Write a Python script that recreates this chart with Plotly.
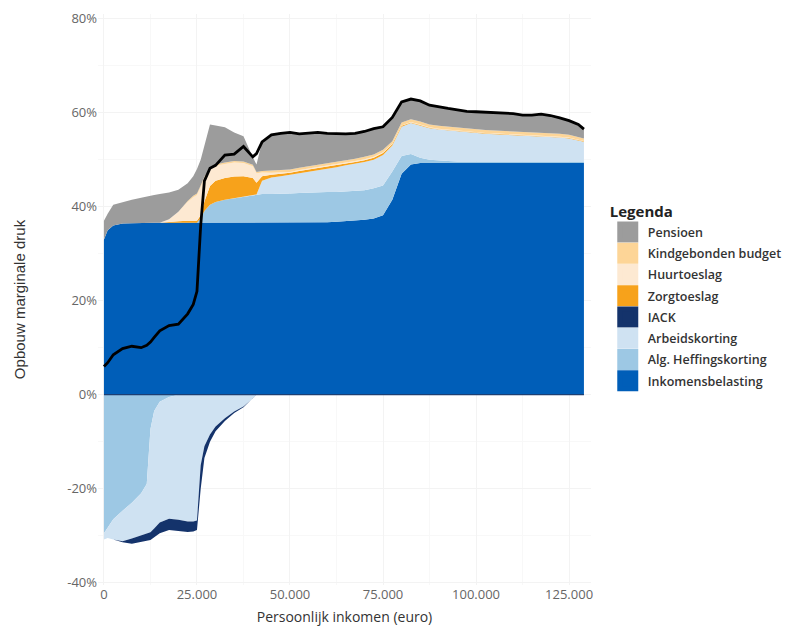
import plotly.graph_objects as go

# Income (euro)
inkomen = [0, 1000, 2500, 5000, 7500, 10000, 11500, 12500, 13500, 15000, 17500, 20000,
           22500, 24000, 25000, 26000, 27000, 28500, 30000, 32500, 35000, 37500, 40000,
           41000, 42500, 45000, 47500, 50000, 52500, 55000, 57500, 60000, 62500, 65000,
           67500, 70000, 72500, 75000, 77500, 80000, 82500, 85000, 87500, 90000, 92500,
           95000, 97500, 100000, 102500, 105000, 107500, 110000, 112500, 115000, 117500,
           120000, 122500, 125000, 127500, 129000]

# Positive contributions (%)
inkomensbelasting = [33.0, 35.0, 36.0, 36.4, 36.5, 36.6, 36.6, 36.6, 36.6, 36.6, 36.6, 36.6,
                     36.6, 36.6, 36.6, 36.6, 36.6, 36.6, 36.6, 36.6, 36.6, 36.6, 36.6,
                     36.6, 36.6, 36.6, 36.6, 36.6, 36.6, 36.6, 36.6, 36.7, 36.8, 36.9,
                     37.0, 37.2, 37.5, 38.2, 41.5, 47.0, 49.0, 49.3, 49.3, 49.3, 49.3,
                     49.3, 49.3, 49.3, 49.3, 49.3, 49.3, 49.3, 49.3, 49.3, 49.3,
                     49.3, 49.3, 49.3, 49.3, 49.3]
heffingskorting_pos = [0, 0, 0, 0, 0, 0, 0, 0, 0, 0, 0, 0,
                       0, 0, 0, 1.0, 2.5, 3.8, 4.4, 4.9, 5.2, 5.5, 5.9,
                       6.0, 6.1, 6.1, 6.1, 6.2, 6.3, 6.4, 6.4, 6.4, 6.3, 6.3,
                       6.3, 6.3, 6.4, 6.3, 6.0, 3.8, 2.2, 1.1, 0.7, 0.5, 0.4,
                       0.3, 0.3, 0.3, 0.3, 0.3, 0.3, 0.3, 0.3, 0.3, 0.3,
                       0.3, 0.3, 0.3, 0.3, 0.3]
arbeidskorting_pos = [0, 0, 0, 0, 0, 0, 0, 0, 0, 0, 0, 0,
                      0, 0, 0, 0, 0, 0, 0, 0, 0, 0, 0,
                      0, 2.8, 3.5, 3.8, 4.0, 4.3, 4.5, 4.8, 5.0, 5.3, 5.6,
                      5.8, 6.0, 6.1, 6.5, 5.5, 6.2, 6.6, 6.9, 6.7, 6.6, 6.5,
                      6.4, 6.2, 6.0, 5.9, 5.8, 5.7, 5.6, 5.5, 5.4, 5.4,
                      5.3, 5.1, 4.9, 4.5, 4.2]
zorgtoeslag = [0, 0, 0, 0, 0, 0, 0, 0, 0, 0, 0.2, 0.3,
               0.4, 0.4, 0.4, 0.6, 2.0, 4.0, 4.5, 4.6, 4.6, 4.4, 3.6,
               2.5, 1.0, 0.6, 0.5, 0.4, 0.4, 0.4, 0.4, 0.4, 0.4, 0.4,
               0.4, 0.4, 0.4, 0.4, 0.3, 0.2, 0.1, 0.1, 0.1, 0.1, 0.1,
               0.1, 0.1, 0.1, 0.1, 0.1, 0.1, 0.1, 0.1, 0.1, 0.1,
               0.1, 0.1, 0.1, 0.1, 0.1]
huurtoeslag = [0, 0, 0, 0, 0, 0, 0, 0, 0, 0, 0.5, 2.0,
               4.0, 5.0, 5.5, 6.0, 5.0, 3.5, 3.2, 3.0, 3.0, 2.8, 2.5,
               2.0, 0.8, 0.4, 0.3, 0.2, 0.2, 0.2, 0.2, 0.2, 0.2, 0.2,
               0.2, 0.2, 0.2, 0.2, 0.1, 0.1, 0.1, 0.1, 0.1, 0.1, 0.1,
               0.1, 0.1, 0.1, 0.1, 0.1, 0.1, 0.1, 0.1, 0.1, 0.1,
               0.1, 0.1, 0.1, 0.1, 0.1]
kindgebonden = [0, 0, 0, 0, 0, 0, 0, 0, 0, 0, 0, 0,
                0.2, 0.3, 0.3, 0.3, 0.3, 0.3, 0.3, 0.3, 0.3, 0.3, 0.3,
                0.3, 0.3, 0.5, 0.5, 0.5, 0.5, 0.5, 0.5, 0.5, 0.5, 0.5,
                0.5, 0.5, 0.5, 0.5, 0.5, 0.6, 0.6, 0.6, 0.6, 0.6, 0.6,
                0.6, 0.6, 0.6, 0.6, 0.6, 0.6, 0.6, 0.6, 0.6, 0.6,
                0.6, 0.6, 0.6, 0.6, 0.5]
pensioen = [4.0, 3.5, 4.4, 4.6, 5.0, 5.3, 5.6, 5.8, 5.9, 6.1, 5.7, 4.7,
            3.8, 4.2, 5.2, 5.5, 6.6, 9.3, 8.3, 7.5, 6.1, 5.4, 1.6,
            1.6, 6.2, 7.6, 7.8, 7.9, 7.2, 7.0, 6.9, 6.4, 6.0, 5.6,
            5.4, 5.4, 5.5, 4.9, 5.1, 4.4, 4.3, 4.4, 4.1, 4.0, 3.9,
            3.8, 3.7, 3.8, 3.8, 3.8, 3.8, 3.8, 3.6, 3.7, 3.9,
            3.7, 3.4, 3.0, 2.6, 2.0]

# Negative contributions (%)
heffingskorting_neg = [-29.5, -28.4, -26.5, -24.7, -23.0, -21.0, -19.0, -7.3, -3.5, -1.5, -0.5, 0,
                       0, 0, 0, 0, 0, 0, 0, 0, 0, 0, 0,
                       0, 0, 0, 0, 0, 0, 0, 0, 0, 0, 0,
                       0, 0, 0, 0, 0, 0, 0, 0, 0, 0, 0,
                       0, 0, 0, 0, 0, 0, 0, 0, 0, 0,
                       0, 0, 0, 0, 0]
arbeidskorting_neg = [-1.3, -2.1, -4.3, -6.5, -7.6, -9.0, -10.6, -22.0, -25.0, -25.7, -25.9, -26.6,
                      -27.0, -27.0, -26.8, -15.0, -11.0, -8.5, -6.8, -5.0, -3.6, -2.5, -0.8,
                      0, 0, 0, 0, 0, 0, 0, 0, 0, 0, 0,
                      0, 0, 0, 0, 0, 0, 0, 0, 0, 0, 0,
                      0, 0, 0, 0, 0, 0, 0, 0, 0, 0,
                      0, 0, 0, 0, 0]
iack_neg = [0, 0, 0, -0.2, -1.1, -1.4, -1.5, -1.6, -1.8, -2.3, -2.4, -2.4,
            -2.2, -2.1, -2.0, -5.0, -2.5, -1.5, -1.0, -0.6, -0.3, -0.2, -0.1,
            0, 0, 0, 0, 0, 0, 0, 0, 0, 0, 0,
            0, 0, 0, 0, 0, 0, 0, 0, 0, 0, 0,
            0, 0, 0, 0, 0, 0, 0, 0, 0, 0,
            0, 0, 0, 0, 0]

# Total marginal pressure (black line, %)
totaal = [6.0, 6.8, 8.5, 9.8, 10.3, 10.0, 10.5, 11.2, 12.2, 13.6, 14.7, 15.0,
          17.2, 19.2, 22.0, 36.0, 45.5, 48.2, 48.8, 51.0, 51.2, 52.8, 50.6,
          51.3, 53.8, 55.3, 55.6, 55.8, 55.5, 55.6, 55.8, 55.6, 55.5, 55.5,
          55.6, 56.0, 56.6, 57.0, 59.0, 62.3, 62.9, 62.5, 61.6, 61.2, 60.9,
          60.6, 60.3, 60.2, 60.1, 60.0, 59.9, 59.8, 59.5, 59.5, 59.7,
          59.4, 58.9, 58.3, 57.5, 56.5]

x_ticks = [0, 25000, 50000, 75000, 100000, 125000]
x_ticktext = ["0", "25.000", "50.000", "75.000", "100.000", "125.000"]
y_ticks = [-40, -20, 0, 20, 40, 60, 80]
y_ticktext = ["-40%", "-20%", "0%", "20%", "40%", "60%", "80%"]

names = ["Pensioen", "Kindgebonden budget", "Huurtoeslag", "Zorgtoeslag", "IACK",
         "Arbeidskorting", "Alg. Heffingskorting", "Inkomensbelasting"]
colors = {
    "Pensioen": "#9C9C9C",
    "Kindgebonden budget": "#FDD597",
    "Huurtoeslag": "#FDE9D2",
    "Zorgtoeslag": "#F7A21B",
    "IACK": "#14336B",
    "Arbeidskorting": "#CFE2F2",
    "Alg. Heffingskorting": "#9DC8E4",
    "Inkomensbelasting": "#005EB8",
}

fig = go.Figure()

pos_stack = [("Inkomensbelasting", inkomensbelasting),
             ("Alg. Heffingskorting", heffingskorting_pos),
             ("Arbeidskorting", arbeidskorting_pos),
             ("Zorgtoeslag", zorgtoeslag),
             ("Huurtoeslag", huurtoeslag),
             ("Kindgebonden budget", kindgebonden),
             ("Pensioen", pensioen)]
neg_stack = [("Alg. Heffingskorting", heffingskorting_neg),
             ("Arbeidskorting", arbeidskorting_neg),
             ("IACK", iack_neg)]

for name, vals in pos_stack:
    fig.add_trace(go.Scatter(x=inkomen, y=vals, stackgroup="pos", mode="lines",
                             line=dict(width=0, color=colors[name]),
                             fillcolor=colors[name], name=name, showlegend=False,
                             hoverinfo="skip"))
for name, vals in neg_stack:
    fig.add_trace(go.Scatter(x=inkomen, y=vals, stackgroup="neg", mode="lines",
                             line=dict(width=0, color=colors[name]),
                             fillcolor=colors[name], name=name, showlegend=False,
                             hoverinfo="skip"))

# thin dark baseline at 0 along the data extent
fig.add_trace(go.Scatter(x=[inkomen[0], inkomen[-1]], y=[0, 0], mode="lines",
                         line=dict(color="#1C3F73", width=1.3), showlegend=False,
                         hoverinfo="skip"))

fig.add_trace(go.Scatter(x=inkomen, y=totaal, mode="lines",
                         line=dict(color="black", width=2.8), showlegend=False,
                         name="Totaal"))

# legend entries (large squares)
for i, name in enumerate(names):
    fig.add_trace(go.Scatter(x=[None], y=[None], mode="markers",
                             marker=dict(symbol="square", size=20, color=colors[name],
                                         line=dict(width=5, color=colors[name])),
                             name=name, showlegend=True, legendgroup="g%d" % i))

font_main = "Open Sans, Lato, DejaVu Sans, sans-serif"

fig.update_layout(
    width=801, height=632,
    margin=dict(l=90, r=218, t=6, b=55),
    paper_bgcolor="white", plot_bgcolor="white",
    font=dict(family=font_main, color="#555555", size=13),
    legend=dict(
        title=dict(text="<b>Legenda</b>", font=dict(size=15, color="#222222", family=font_main)),
        x=1.034, y=0.678, xanchor="left", yanchor="top",
        traceorder="grouped",
        font=dict(size=12.5, color="#333333", family=font_main, weight=600),
        itemwidth=30, tracegroupgap=2,
        bgcolor="rgba(0,0,0,0)",
    ),
    xaxis=dict(
        range=[-1600, 130900], automargin=False,
        tickvals=x_ticks, ticktext=x_ticktext,
        showgrid=True, gridcolor="#F3F3F3", gridwidth=1,
        minor=dict(showgrid=True, gridcolor="#F8F8F8", dtick=12500, tick0=0),
        zeroline=False, showline=False, ticks="",
        tickfont=dict(size=13, color="#666666"),
        title=dict(text="Persoonlijk inkomen (euro)", font=dict(size=14, color="#333333"),
                   standoff=10),
    ),
    yaxis=dict(
        range=[-40.5, 81], automargin=False,
        tickvals=y_ticks, ticktext=y_ticktext,
        showgrid=True, gridcolor="#F3F3F3", gridwidth=1,
        minor=dict(showgrid=True, gridcolor="#F8F8F8", dtick=10, tick0=0),
        zeroline=False, showline=False, ticks="",
        tickfont=dict(size=13, color="#666666"),
        title=dict(text="Opbouw marginale druk",
                   font=dict(size=15, color="#333333",
                             family="Liberation Sans Narrow, Arial Narrow, sans-serif"),
                   standoff=37),
    ),
)

fig.write_html("out.html")
